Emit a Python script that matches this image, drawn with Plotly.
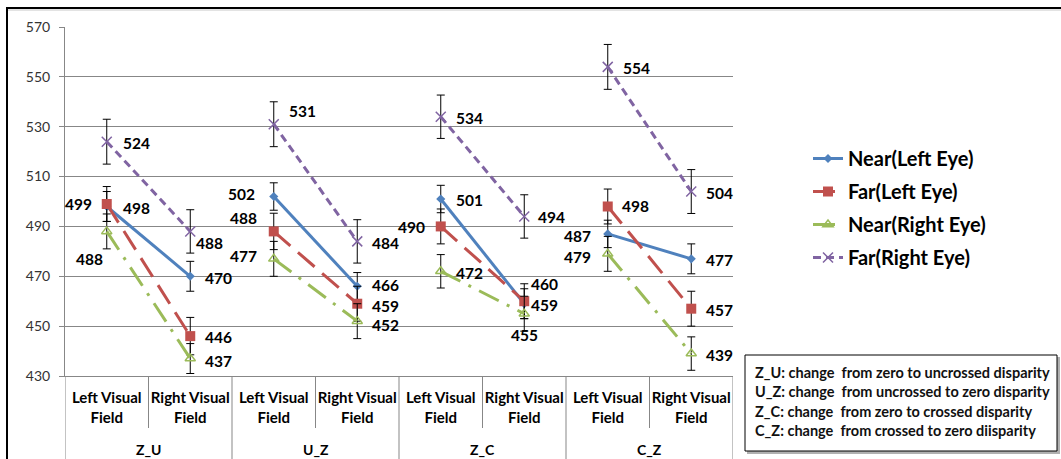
import plotly.graph_objects as go

# ---- data -------------------------------------------------------------
GROUPS = ["Z_U", "U_Z", "Z_C", "C_Z"]
FIELDS = ["Left Visual Field", "Right Visual Field"]

SERIES = ["Near(Left Eye)", "Far(Left Eye)", "Near(Right Eye)", "Far(Right Eye)"]

near_left = [498, 470, 502, 466, 501, 459, 487, 477]
far_left = [499, 446, 488, 459, 490, 460, 498, 457]
near_right = [488, 437, 477, 452, 472, 455, 479, 439]
far_right = [524, 488, 531, 484, 534, 494, 554, 504]

near_left_err = [6, 6, 5.5, 5.5, 5.5, 6, 5.5, 6]
far_left_err = [7, 7.5, 7.3, 7, 7, 7, 7, 7]
near_right_err = [7, 6, 7, 7, 6.7, 7, 7, 6.7]
far_right_err = [9, 8.7, 9, 8.7, 8.7, 8.7, 9, 8.8]

Y_TICKS = [430, 450, 470, 490, 510, 530, 550, 570]

NOTES = [
    "Z_U: change  from zero to uncrossed disparity",
    "U_Z: change  from uncrossed to zero disparity",
    "Z_C: change  from zero to crossed disparity",
    "C_Z: change  from crossed to zero diisparity",
]

# ---- styling ------------------------------------------------------------
FONT = "Lato, Calibri, 'Open Sans', sans-serif"
GRID = "#878787"
COLORS = ["#4F81BD", "#C0504D", "#9BBB59", "#8064A2"]
DASHES = ["solid", "22px,10px", "22px,9px,3px,9px", "8px,5px"]
MARKERS = [
    dict(symbol="diamond", size=7, color=COLORS[0]),
    dict(symbol="square", size=10, color=COLORS[1]),
    dict(symbol="triangle-up-open", size=9, color=COLORS[2],
         line=dict(width=1.5, color=COLORS[2])),
    dict(symbol="x-thin-open", size=10, color=COLORS[3],
         line=dict(width=1.5, color=COLORS[3])),
]

# value label placement per point: (anchor, dx px, dy px downwards)
LABEL_POS = [
    [("l", 15, 2), ("l", 14, 2), ("r", -18, -3), ("l", 14, -1),
     ("l", 14, 1), ("l", 6, 1), ("r", -16, 2), ("l", 14, 1)],
    [("r", -14, 0), ("l", 14, 1), ("r", -16, -13), ("l", 14, 2),
     ("r", -15, 1), ("l", 6, -17), ("l", 13, 0), ("l", 14, 1)],
    [("r", -3, 28), ("l", 14, 2), ("r", -16, -3), ("l", 14, 4),
     ("l", 14, 2), ("c", 0, 21), ("r", -16, 3), ("l", 14, 1)],
    [("l", 15, 1), ("l", 5, 12), ("l", 14, -13), ("l", 14, 2),
     ("l", 14, 1), ("l", 13, 1), ("l", 14, 1), ("l", 14, 1)],
]

# plot area in pixels
PX_L, PX_R, PX_T, PX_B = 65, 733, 27, 376
FIG_W, FIG_H = 1061, 459


def paper_x(px):
    return (px - PX_L) / (PX_R - PX_L)


def paper_y(py):
    return (PX_B - py) / (PX_B - PX_T)


n_fields = len(FIELDS)
n_cats = len(GROUPS) * n_fields
positions = list(range(n_cats))


def with_gaps(values):
    """Insert None between groups so lines do not join across groups."""
    out = []
    for g in range(len(GROUPS)):
        out.extend(values[g * n_fields:(g + 1) * n_fields])
        if g < len(GROUPS) - 1:
            out.append(None)
    return out


fig = go.Figure()

all_values = [near_left, far_left, near_right, far_right]
all_errs = [near_left_err, far_left_err, near_right_err, far_right_err]

for k, name in enumerate(SERIES):
    fig.add_trace(go.Scatter(
        x=with_gaps(positions),
        y=with_gaps(all_values[k]),
        mode="lines+markers",
        name=name,
        legendgroup=name,
        line=dict(color=COLORS[k], width=3, dash=DASHES[k]),
        marker=MARKERS[k],
        error_y=dict(type="data", array=with_gaps(all_errs[k]), visible=True,
                     color="black", thickness=1, width=4),
        connectgaps=False,
        hoverinfo="skip",
    ))

annotations = []
for k in range(len(SERIES)):
    for i, v in enumerate(all_values[k]):
        anchor, dx, dy = LABEL_POS[k][i]
        annotations.append(dict(
            x=positions[i], y=v, xref="x", yref="y",
            text=str(v), showarrow=False, borderpad=0,
            xanchor={"l": "left", "r": "right", "c": "center"}[anchor],
            yanchor="middle", xshift=dx, yshift=-dy,
            font=dict(family=FONT, size=15.5, color="black", weight="bold"),
        ))

# group labels under the category labels
for g, name in enumerate(GROUPS):
    annotations.append(dict(
        x=g * n_fields + (n_fields - 1) / 2, y=paper_y(449),
        xref="x", yref="paper", text=name, showarrow=False,
        xanchor="center", yanchor="middle",
        font=dict(family=FONT, size=14, color="black", weight="bold"),
    ))

# explanatory notes in the box
for j, line in enumerate(NOTES):
    annotations.append(dict(
        x=paper_x(753), y=paper_y(372.5 + j * 19.4), xref="paper", yref="paper",
        text=line, showarrow=False, xanchor="left", yanchor="middle",
        font=dict(family=FONT, size=14.5, color="#111111", weight="bold"),
    ))

shapes = []
# category separators
for c in range(n_cats + 1):
    xpos = c - 0.5
    is_group_edge = c % n_fields == 0
    shapes.append(dict(
        type="line", xref="x", yref="paper",
        x0=xpos, x1=xpos, y0=0,
        y1=paper_y(FIG_H + 2) if is_group_edge else paper_y(428),
        line=dict(color=GRID, width=1),
    ))
# note box with shadow
shapes.append(dict(type="rect", xref="paper", yref="paper",
                   x0=paper_x(747), x1=paper_x(1060),
                   y0=paper_y(454), y1=paper_y(357),
                   line=dict(width=0), fillcolor="#b0b0b0", layer="above"))
shapes.append(dict(type="rect", xref="paper", yref="paper",
                   x0=paper_x(745), x1=paper_x(1057),
                   y0=paper_y(451), y1=paper_y(355),
                   line=dict(color="black", width=1), fillcolor="white",
                   layer="above"))
# outer chart frame
shapes.append(dict(type="rect", xref="paper", yref="paper",
                   x0=paper_x(7), x1=paper_x(FIG_W + 20),
                   y0=paper_y(FIG_H + 20), y1=paper_y(8),
                   line=dict(color="black", width=2), layer="above"))
shapes.append(dict(type="line", xref="paper", yref="paper",
                   x0=paper_x(8), x1=paper_x(FIG_W + 20),
                   y0=paper_y(10), y1=paper_y(10),
                   line=dict(color="#c8c8c8", width=1), layer="above"))

fig.update_layout(
    width=FIG_W, height=FIG_H,
    margin=dict(l=PX_L, r=FIG_W - PX_R, t=PX_T, b=FIG_H - PX_B),
    plot_bgcolor="white", paper_bgcolor="white",
    font=dict(family=FONT),
    showlegend=True,
    legend=dict(
        x=paper_x(808), y=paper_y(139), xanchor="left", yanchor="top",
        font=dict(family=FONT, size=20, color="black", weight="bold"),
        tracegroupgap=4, bgcolor="rgba(0,0,0,0)",
    ),
    annotations=annotations,
    shapes=shapes,
)

fig.update_xaxes(
    range=[-0.5, n_cats - 0.5],
    tickvals=positions,
    ticktext=[f.replace(" Field", "<br>Field") for _ in GROUPS for f in FIELDS],
    tickfont=dict(family=FONT, size=15, color="black", weight="bold"),
    showgrid=False, zeroline=False,
    showline=True, linecolor=GRID, linewidth=1,
    ticks="", ticklabelstandoff=8,
)

fig.update_yaxes(
    range=[Y_TICKS[0], Y_TICKS[-1]],
    tickvals=Y_TICKS,
    tickfont=dict(family=FONT, size=14, color="#333333"),
    showgrid=True, gridcolor=GRID, gridwidth=1,
    zeroline=False, showline=True, linecolor=GRID, linewidth=1,
    ticks="outside", ticklen=5, tickcolor=GRID, ticklabelstandoff=6,
)

fig.write_html("out.html")
